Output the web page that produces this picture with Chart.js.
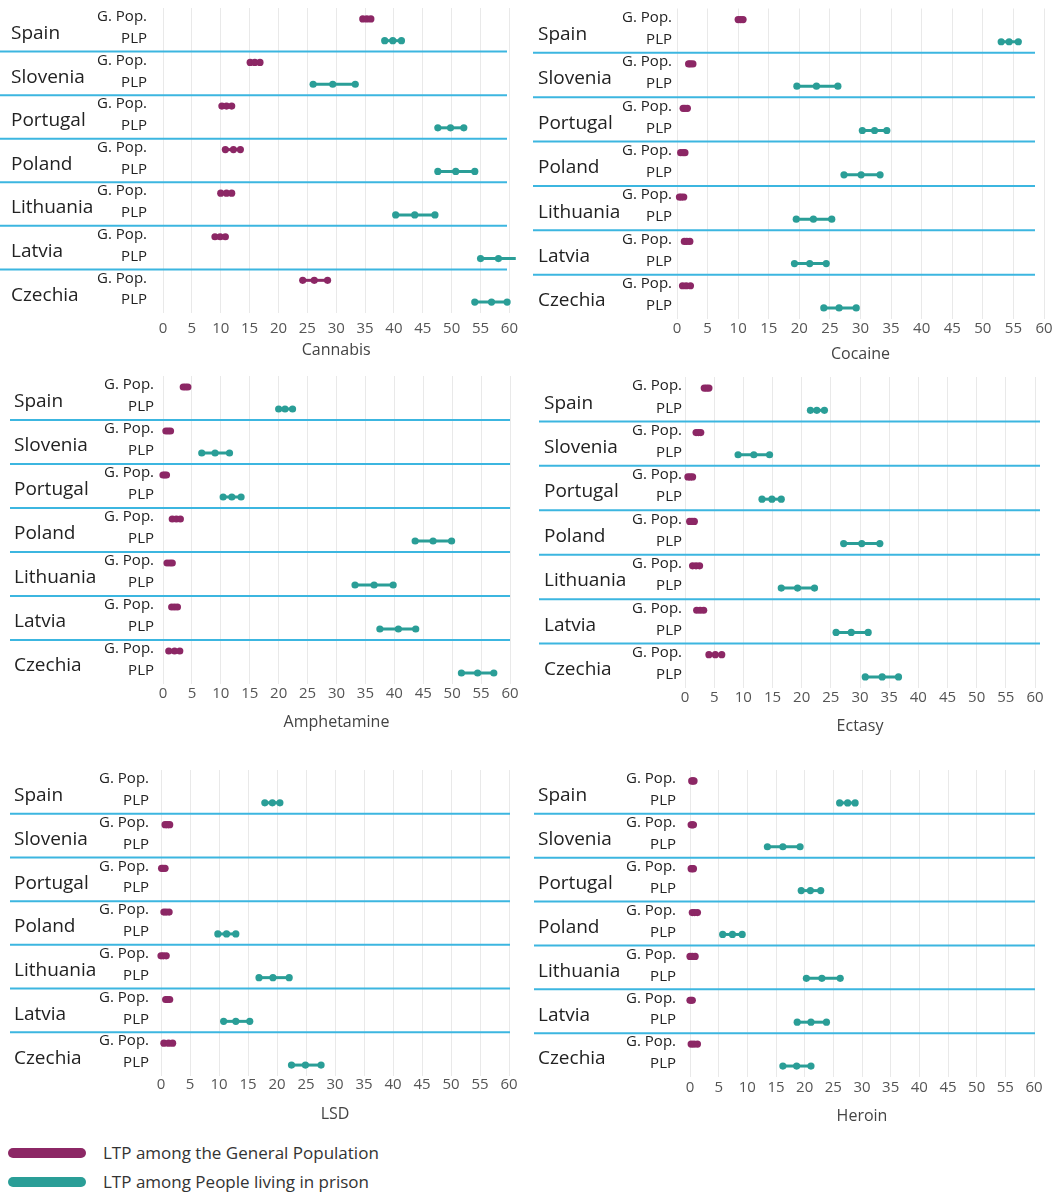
<!DOCTYPE html>
<html>
<head>
<meta charset="utf-8">
<script src="https://cdn.jsdelivr.net/npm/chart.js@4.4.1/dist/chart.umd.min.js"></script>
<style>
    body { margin: 0; background: #fff; }
    #pagina { position: relative; width: 1063px; height: 1194px; font-family: 'Open Sans', sans-serif; overflow: hidden; }
    .painel { position: absolute; }
    .legenda { position: absolute; left: 8px; display: flex; align-items: center; font-size: 17px; color: #333; }
    .legenda .barra { display: inline-block; width: 78px; height: 10px; border-radius: 5px; margin-right: 17px; }
</style>
</head>
<body>
<div id="pagina">
    <canvas id="grafico-cannabis" class="painel"></canvas>
    <canvas id="grafico-cocaine" class="painel"></canvas>
    <canvas id="grafico-amphetamine" class="painel"></canvas>
    <canvas id="grafico-ectasy" class="painel"></canvas>
    <canvas id="grafico-lsd" class="painel"></canvas>
    <canvas id="grafico-heroin" class="painel"></canvas>

    <div class="legenda" style="top:1141px"><span class="barra" style="background:#8c2765"></span>LTP among the General Population</div>
    <div class="legenda" style="top:1170px"><span class="barra" style="background:#2a9e97"></span>LTP among People living in prison</div>
</div>

<script>
//Dados (cada item: [limite inferior, estimativa, limite superior], em %)
const paises = ['Spain', 'Slovenia', 'Portugal', 'Poland', 'Lithuania', 'Latvia', 'Czechia'];
const grupos = ['G. Pop.', 'PLP'];
const ticksX = [0, 60, 5]; // min, max, passo

const cannabisGenPop = [[34.6, 35.3, 36.0], [15.1, 15.9, 16.8], [10.2, 11.0, 11.9], [10.8, 12.2, 13.4], [10.0, 11.0, 11.9], [9.0, 9.9, 10.8], [24.2, 26.2, 28.5]];
const cannabisPLP = [[38.4, 39.8, 41.3], [26.0, 29.4, 33.3], [47.6, 49.8, 52.1], [47.6, 50.7, 54.0], [40.3, 43.6, 47.1], [55.0, 58.1, 61.1], [54.0, 56.9, 59.6]];

const cocaineGenPop = [[10.0, 10.4, 10.8], [1.9, 2.2, 2.6], [1.0, 1.3, 1.7], [0.6, 1.0, 1.3], [0.4, 0.7, 1.1], [1.2, 1.6, 2.1], [0.9, 1.5, 2.2]];
const cocainePLP = [[53.0, 54.3, 55.8], [19.6, 22.8, 26.3], [30.3, 32.3, 34.3], [27.3, 30.1, 33.2], [19.5, 22.3, 25.3], [19.2, 21.7, 24.4], [24.0, 26.5, 29.3]];

const amphetamineGenPop = [[3.5, 3.9, 4.3], [0.5, 0.9, 1.3], [0.0, 0.3, 0.6], [1.6, 2.3, 3.0], [0.7, 1.2, 1.6], [1.5, 2.0, 2.5], [1.0, 2.0, 2.9]];
const amphetaminePLP = [[20.0, 21.1, 22.4], [6.7, 9.0, 11.5], [10.4, 11.9, 13.5], [43.6, 46.7, 49.9], [33.2, 36.5, 39.8], [37.5, 40.7, 43.7], [51.6, 54.4, 57.2]];

const ectasyGenPop = [[3.3, 3.7, 4.1], [1.9, 2.3, 2.7], [0.5, 0.9, 1.3], [0.8, 1.2, 1.6], [1.3, 1.9, 2.5], [2.0, 2.6, 3.2], [4.1, 5.2, 6.3]];
const ectasyPLP = [[21.5, 22.6, 23.9], [9.1, 11.8, 14.5], [13.2, 14.9, 16.5], [27.2, 30.3, 33.4], [16.5, 19.3, 22.2], [25.9, 28.5, 31.4], [30.9, 33.8, 36.6]];

const lsdGenPop = [null, [0.7, 1.1, 1.5], [0.1, 0.35, 0.7], [0.5, 0.9, 1.4], [0.0, 0.4, 0.9], [0.8, 1.1, 1.5], [0.5, 1.3, 2.0]];
const lsdPLP = [[17.9, 19.2, 20.5], null, null, [9.8, 11.3, 12.9], [16.9, 19.3, 22.1], [10.8, 12.9, 15.3], [22.5, 24.9, 27.6]];

const heroinGenPop = [[0.3, 0.5, 0.7], [0.2, 0.4, 0.6], [0.2, 0.4, 0.6], [0.4, 0.8, 1.3], [0.0, 0.4, 0.9], [0.0, 0.2, 0.4], [0.2, 0.7, 1.3]];
const heroinPLP = [[26.1, 27.5, 28.8], [13.5, 16.2, 19.2], [19.4, 21.0, 22.8], [5.7, 7.4, 9.1], [20.3, 23.0, 26.2], [18.7, 21.1, 23.8], [16.2, 18.6, 21.1]];

const corGenPop = '#8c2765';
const corPLP = '#2a9e97';
const corDivisor = '#3cb6e0';

//Linhas do eixo Y (uma por país e grupo)
const linhas = paises.flatMap(p => grupos.map(g => p + '|' + g));

//Posição de cada painel na página
const paineis = [
    { id: 'grafico-cannabis', titulo: 'Cannabis', gen: cannabisGenPop, plp: cannabisPLP,
      x: 0, y: 0, w: 525, h: 366, topo: 8, dir: 15, larguraY: 163, alturaX: 53, padTick: 7, padTitulo: 6, gapY: 16, xPais: 11, inicioDiv: 0, fimDiv: 507 },
    { id: 'grafico-cocaine', titulo: 'Cocaine', gen: cocaineGenPop, plp: cocainePLP,
      x: 525, y: 0, w: 538, h: 366, topo: 8.5, dir: 19, larguraY: 152, alturaX: 47, padTick: 1, padTitulo: 2, gapY: 5, xPais: 13, inicioDiv: 8, fimDiv: 510 },
    { id: 'grafico-amphetamine', titulo: 'Amphetamine', gen: amphetamineGenPop, plp: amphetaminePLP,
      x: 0, y: 370, w: 525, h: 366, topo: 6, dir: 15, larguraY: 163, alturaX: 52, padTick: 1, padTitulo: 4, gapY: 9, xPais: 14, inicioDiv: 10, fimDiv: 510 },
    { id: 'grafico-ectasy', titulo: 'Ectasy', gen: ectasyGenPop, plp: ectasyPLP,
      x: 525, y: 370, w: 538, h: 366, topo: 7, dir: 28, larguraY: 160, alturaX: 48, padTick: 1, padTitulo: 0, gapY: 3, xPais: 19, inicioDiv: 14, fimDiv: 515 },
    { id: 'grafico-lsd', titulo: 'LSD', gen: lsdGenPop, plp: lsdPLP,
      x: 0, y: 760, w: 525, h: 366, topo: 10, dir: 16, larguraY: 161, alturaX: 50, padTick: 0, padTitulo: 2, gapY: 12, xPais: 14, inicioDiv: 10, fimDiv: 510 },
    { id: 'grafico-heroin', titulo: 'Heroin', gen: heroinGenPop, plp: heroinPLP,
      x: 525, y: 760, w: 538, h: 366, topo: 10, dir: 29, larguraY: 165, alturaX: 49, padTick: 2, padTitulo: 0, gapY: 14, xPais: 13, inicioDiv: 9, fimDiv: 510 }
];

//Plugin: nomes dos países e linhas azuis entre eles
const divisoresPaises = {
    id: 'divisoresPaises',
    beforeDatasetsDraw(chart, args, opts) {
        const { ctx, scales: { y } } = chart;
        ctx.save();
        ctx.strokeStyle = corDivisor;
        ctx.lineWidth = 2;
        for (let i = 0; i < paises.length - 1; i++) {
            const yy = (y.getPixelForValue(2 * i + 1) + y.getPixelForValue(2 * i + 2)) / 2;
            ctx.beginPath();
            ctx.moveTo(opts.inicio, yy);
            ctx.lineTo(opts.fim, yy);
            ctx.stroke();
        }
        ctx.fillStyle = '#222';
        ctx.font = '19px "Open Sans"';
        ctx.textBaseline = 'middle';
        ctx.textAlign = 'left';
        paises.forEach((p, i) => {
            const yy = (y.getPixelForValue(2 * i) + y.getPixelForValue(2 * i + 1)) / 2;
            ctx.fillText(p, opts.xPais, yy + 4);
        });
        ctx.restore();
    }
};

function montarDatasets(genPop, plp) {
    const series = [genPop, plp];
    const cores = [corGenPop, corPLP];
    const datasets = [];
    paises.forEach((pais, i) => {
        series.forEach((serie, g) => {
            const valores = serie[i];
            if (!valores) return;
            const linha = pais + '|' + grupos[g];
            datasets.push({
                data: valores.map(v => ({ x: v, y: linha })),
                showLine: true,
                borderColor: cores[g],
                backgroundColor: cores[g],
                pointBackgroundColor: cores[g],
                pointBorderWidth: 0,
                pointRadius: 3.6,
                borderWidth: 3,
                clip: false
            });
        });
    });
    return datasets;
}

function gerarPainel(p) {
    const canvas = document.getElementById(p.id);
    canvas.width = p.w;
    canvas.height = p.h;
    canvas.style.left = p.x + 'px';
    canvas.style.top = p.y + 'px';
    new Chart(canvas, {
        type: 'scatter',
        data: { datasets: montarDatasets(p.gen, p.plp) },
        options: {
            responsive: false,
            animation: false,
            layout: { padding: { top: p.topo, right: p.dir, left: 0, bottom: 0 } },
            plugins: {
                legend: { display: false },
                tooltip: { enabled: false },
                divisoresPaises: { inicio: p.inicioDiv, fim: p.fimDiv, xPais: p.xPais }
            },
            scales: {
                x: {
                    type: 'linear',
                    min: ticksX[0],
                    max: ticksX[1],
                    ticks: { stepSize: ticksX[2], padding: p.padTick, color: '#555', font: { size: 15 }, maxRotation: 0, autoSkip: false },
                    grid: { color: '#e9e9e9', lineWidth: 1, drawTicks: false },
                    border: { display: false },
                    title: { display: true, text: p.titulo, color: '#444', font: { size: 16 }, padding: { top: 0, bottom: p.padTitulo } },
                    afterFit(scale) { scale.height = p.alturaX; }
                },
                y: {
                    type: 'category',
                    labels: linhas,
                    offset: true,
                    ticks: {
                        color: '#222',
                        font: { size: 15, lineHeight: 0.8 },
                        padding: 0,
                        labelOffset: -2,
                        autoSkip: false,
                        callback: function (valor) { return this.getLabelForValue(valor).split('|')[1]; }
                    },
                    grid: { drawOnChartArea: false, drawTicks: true, tickLength: p.gapY, tickColor: 'rgba(0,0,0,0)' },
                    border: { display: false },
                    afterFit(scale) { scale.width = p.larguraY; }
                }
            }
        },
        plugins: [divisoresPaises]
    });
}

Chart.defaults.font.family = "'Open Sans', sans-serif";
window.addEventListener('load', () => {
    paineis.forEach(gerarPainel);
});
</script>
</body>
</html>
